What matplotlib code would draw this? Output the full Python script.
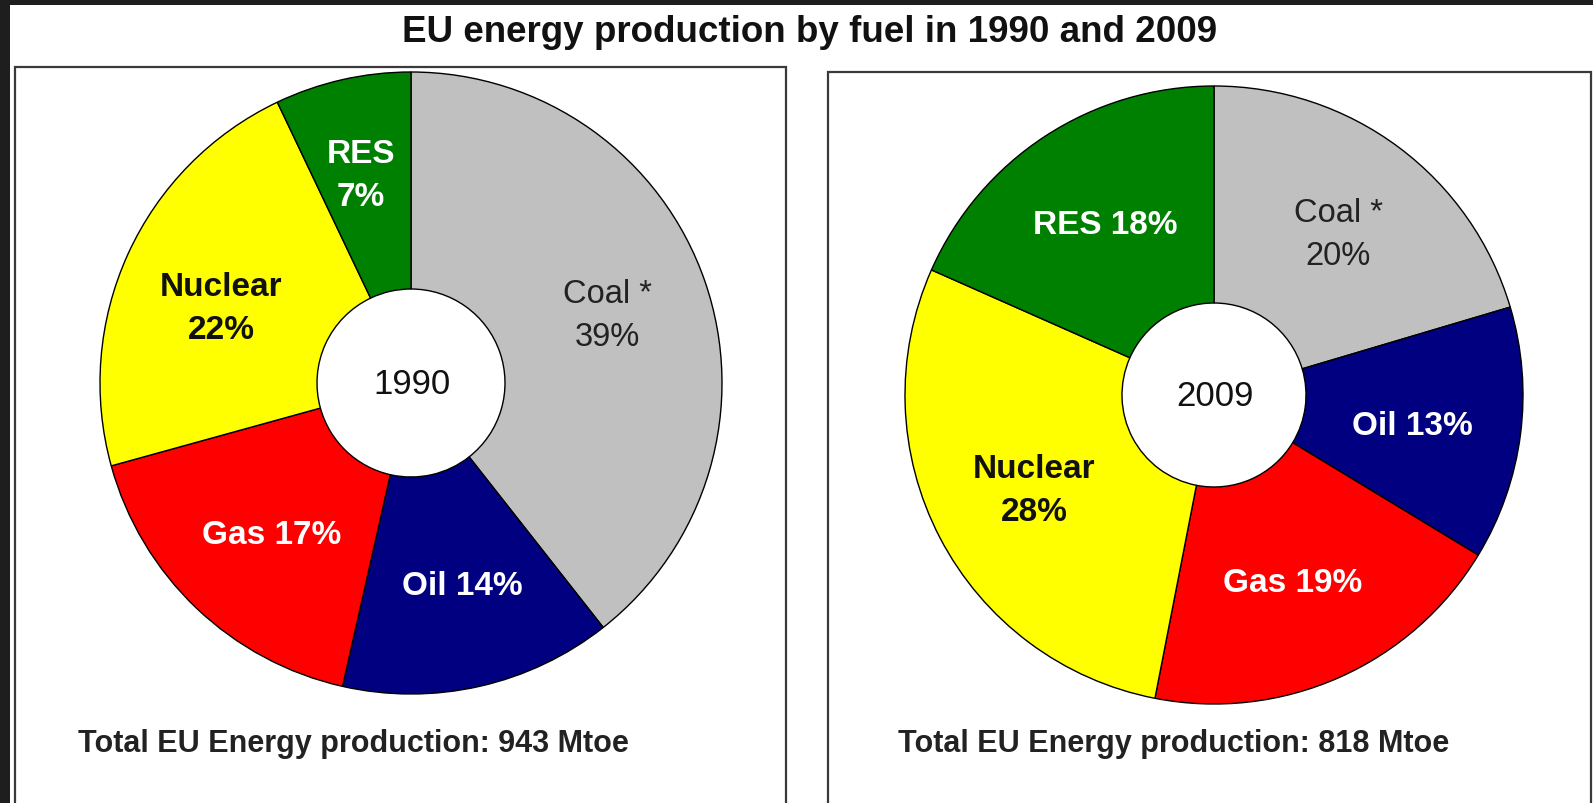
import matplotlib.pyplot as plt
from matplotlib.patches import Rectangle

plt.rcParams['font.family'] = ['Liberation Sans', 'DejaVu Sans']

W, H = 1593, 804

# -----------------------------
# Data
# -----------------------------
fuels = ["Coal *", "Oil", "Gas", "Nuclear", "RES"]
colors = ["#c0c0c0", "#000080", "#ff0000", "#ffff00", "#008000"]
share_1990 = [39, 14, 17, 22, 7]
share_2009 = [20, 13, 19, 28, 18]
years = ["1990", "2009"]
totals = [943, 818]

# label text per slice (line breaks as in the original)
labels_1990 = ["Coal *\n39%", "Oil 14%", "Gas 17%", "Nuclear\n22%", "RES\n7%"]
labels_2009 = ["Coal *\n20%", "Oil 13%", "Gas 19%", "Nuclear\n28%", "RES 18%"]

# label positions in image pixels (x, y from top)
pos_1990 = [(607, 316), (462, 587), (272, 535), (221, 309), (361, 176)]
pos_2009 = [(1338, 235), (1412, 427), (1293, 584), (1034, 491), (1105, 225)]
label_colors = ["#222222", "white", "white", "#111111", "white"]
label_weight = ["normal", "bold", "bold", "bold", "bold"]
label_size = [23.5, 24, 24, 24, 24]

fig = plt.figure(figsize=(W / 100, H / 100), dpi=100, facecolor="#1e1e1e")
ax = fig.add_axes([0, 0, 1, 1])
ax.set_xlim(0, W)
ax.set_ylim(0, H)
ax.set_aspect("equal")
ax.axis("off")

# white panel
ax.add_patch(Rectangle((10, 0), W - 10, H - 6, facecolor="white", edgecolor="none", zorder=0))

# boxes
ax.add_patch(Rectangle((15, -10), 771, H - 68 + 10, facecolor="none",
                       edgecolor="#3a3a3a", lw=1.6, zorder=1))
ax.add_patch(Rectangle((828, -10), 763, H - 73 + 10, facecolor="none",
                       edgecolor="#3a3a3a", lw=1.6, zorder=1))

ax.text(810, H - 33, "EU energy production by fuel in 1990 and 2009",
        ha="center", va="center", fontsize=26.5, fontweight="bold", color="#111111")

panels = [
    (share_1990, labels_1990, pos_1990, (411, 384), 311, 94, (78, 744)),
    (share_2009, labels_2009, pos_2009, (1214, 396), 309, 92, (898, 744)),
]

for i, (vals, labs, pos, c, r, rh, foot) in enumerate(panels):
    cx, cy = c[0], H - c[1]
    ax.pie(vals, colors=colors, startangle=90, counterclock=False,
           center=(cx, cy), radius=r, frame=True,
           wedgeprops=dict(width=r - rh, edgecolor="black", linewidth=1.0))
    for lab, (x, y), col, fw, fs in zip(labs, pos, label_colors, label_weight, label_size):
        ax.text(x, H - y, lab, ha="center", va="center", fontsize=fs,
                fontweight=fw, color=col, linespacing=1.5)
    ax.text(cx + 1, cy - 1, years[i], ha="center", va="center", fontsize=25, color="#111111")
    ax.text(foot[0], H - foot[1], "Total EU Energy production: %d Mtoe" % totals[i],
            ha="left", va="center", fontsize=22, fontweight="bold", color="#222222")

ax.set_xlim(0, W)
ax.set_ylim(0, H)
ax.axis("off")

fig.savefig("out.png", dpi=100, facecolor=fig.get_facecolor())
